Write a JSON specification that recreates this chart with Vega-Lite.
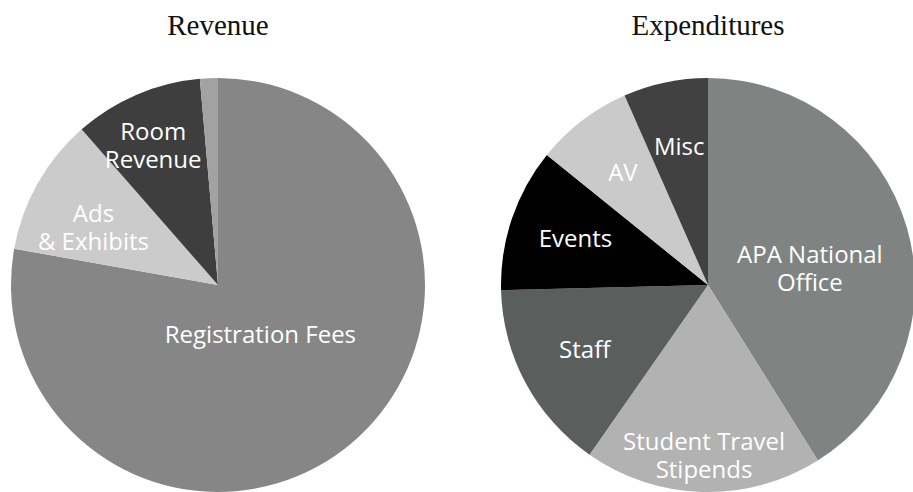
{
  "$schema": "https://vega.github.io/schema/vega-lite/v6.json",
  "padding": {"top": 12, "left": 0, "right": 0, "bottom": 0},
  "background": "white",
  "config": {
    "view": {"stroke": null},
    "title": {"font": "Liberation Serif", "fontSize": 29, "fontWeight": "normal", "color": "#111111", "offset": 37},
    "concat": {"spacing": 65}
  },
  "datasets": {
    "revenue": [
      {"category": "Registration Fees", "label": "Registration Fees", "share": 77.8, "n": 1},
      {"category": "Ads & Exhibits", "label": "Ads\n& Exhibits", "share": 10.75, "n": 2},
      {"category": "Room Revenue", "label": "Room\nRevenue", "share": 10.05, "n": 3},
      {"category": "Other", "label": "", "share": 1.4, "n": 4}
    ],
    "expenditures": [
      {"category": "APA National Office", "label": "APA National\nOffice", "share": 41.1, "n": 1},
      {"category": "Student Travel Stipends", "label": "Student Travel\nStipends", "share": 18.6, "n": 2},
      {"category": "Staff", "label": "Staff", "share": 14.9, "n": 3},
      {"category": "Events", "label": "Events", "share": 11.2, "n": 4},
      {"category": "AV", "label": "AV", "share": 7.6, "n": 5},
      {"category": "Misc", "label": "Misc", "share": 6.6, "n": 6}
    ]
  },
  "hconcat": [
    {
      "width": 436,
      "height": 414,
      "title": "Revenue",
      "data": {"name": "revenue"},
      "encoding": {
        "theta": {"field": "share", "type": "quantitative", "stack": true},
        "order": {"field": "n", "type": "quantitative"}
      },
      "layer": [
        {
          "mark": {"type": "arc", "radius": 207},
          "encoding": {
            "color": {
              "field": "category", "type": "nominal", "legend": null,
              "scale": {
                "domain": ["Registration Fees", "Ads & Exhibits", "Room Revenue", "Other"],
                "range": ["#868686", "#cbcbcb", "#3e3e3e", "#a2a2a2"]
              }
            }
          }
        },
        {
          "mark": {
            "type": "text", "font": "Open Sans", "fontSize": 24, "color": "white",
            "lineBreak": "\n", "lineHeight": 28, "align": "center", "baseline": "middle",
            "radius": {"expr": "datum.category === 'Registration Fees' ? 66 : datum.category === 'Ads & Exhibits' ? 143 : 165"}
          },
          "encoding": {"text": {"field": "label"}}
        }
      ]
    },
    {
      "width": 414,
      "height": 414,
      "title": "Expenditures",
      "data": {"name": "expenditures"},
      "encoding": {
        "theta": {"field": "share", "type": "quantitative", "stack": true},
        "order": {"field": "n", "type": "quantitative"}
      },
      "layer": [
        {
          "mark": {"type": "arc", "radius": 207},
          "encoding": {
            "color": {
              "field": "category", "type": "nominal", "legend": null,
              "scale": {
                "domain": ["APA National Office", "Student Travel Stipends", "Staff", "Events", "AV", "Misc"],
                "range": ["#7f8482", "#b2b2b2", "#5a5e5d", "#000000", "#cacaca", "#414141"]
              }
            }
          }
        },
        {
          "mark": {
            "type": "text", "font": "Open Sans", "fontSize": 24, "color": "white",
            "lineBreak": "\n", "lineHeight": 28, "align": "center", "baseline": "middle",
            "radius": {"expr": "datum.category === 'APA National Office' ? 106 : datum.category === 'Student Travel Stipends' ? 158 : 140"}
          },
          "encoding": {"text": {"field": "label"}}
        }
      ]
    }
  ],
  "resolve": {"scale": {"color": "independent", "theta": "independent"}}
}
